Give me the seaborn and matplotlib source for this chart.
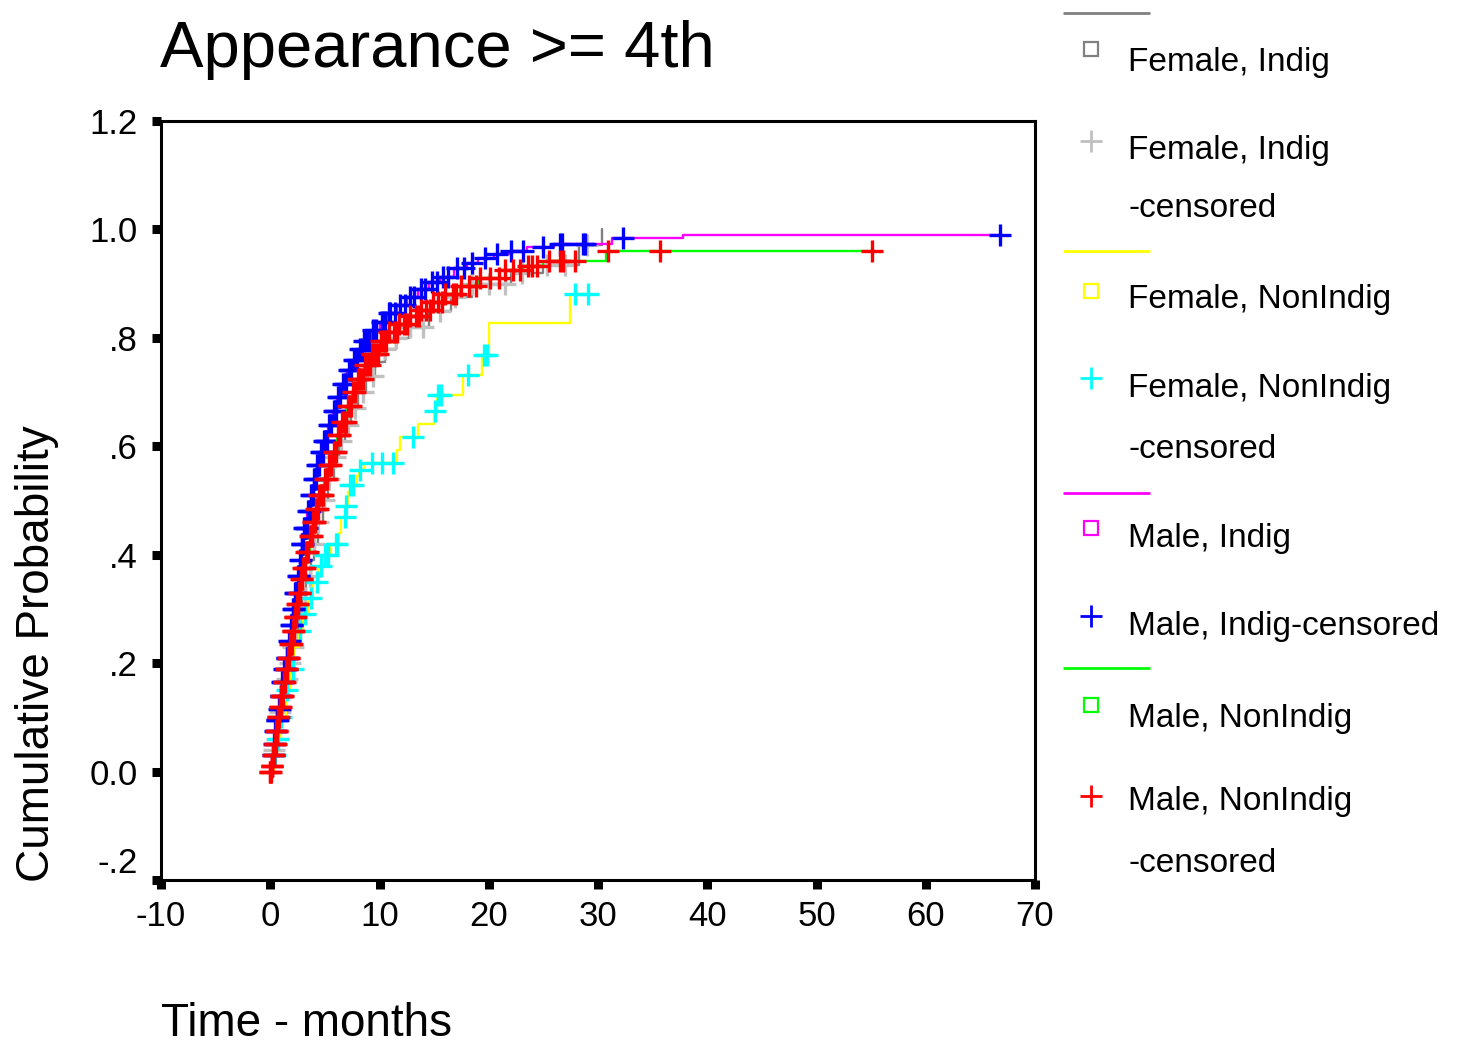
import numpy as np
import pandas as pd
import matplotlib
matplotlib.use("Agg")
import matplotlib.pyplot as plt
import seaborn as sns

# ---------------- data ----------------
groups = ["Female, Indig", "Female, NonIndig", "Male, Indig", "Male, NonIndig"]
line_colors = ["#808080", "#ffff00", "#ff00ff", "#00ff00"]
censor_colors = ["#c0c0c0", "#00ffff", "#0000ff", "#ff0000"]

# Female, Indig : event step knots (time, cumulative probability)
fi_t = [0.15, 0.3, 0.5, 0.7, 0.9, 1.1, 1.4, 1.7, 2.0, 2.3, 2.6, 2.9, 3.3, 3.7, 4.0, 4.4, 4.8,
        5.3, 5.8, 6.3, 6.8, 7.4, 8.0, 8.8, 9.6, 10.5, 11.5, 12.7, 14.5, 16.5, 18.5, 22.0,
        25.0, 28.3, 30.4]
fi_p = [0.02, 0.04, 0.06, 0.085, 0.11, 0.14, 0.17, 0.20, 0.23, 0.26, 0.29, 0.32, 0.36, 0.39,
        0.42, 0.46, 0.50, 0.54, 0.58, 0.61, 0.64, 0.67, 0.70, 0.73, 0.755, 0.78, 0.80, 0.82,
        0.85, 0.875, 0.90, 0.92, 0.935, 0.971, 1.0]
fi_cens = [0.3, 0.6, 0.9, 1.2, 1.5, 1.8, 2.1, 2.4, 2.8, 3.2, 3.6, 4.0, 4.4, 4.9, 5.4, 5.9, 6.5,
           7.1, 7.8, 8.5, 9.4, 10.5, 11.5, 12.8, 14.0, 15.5, 16.9, 18.5, 20.0, 21.5, 23.0,
           25.3, 27.0, 29.0]

# Female, NonIndig
fn_t = [0.3, 0.6, 1.0, 1.4, 1.8, 2.2, 2.6, 3.0, 3.5, 3.9, 4.4, 4.9, 5.6, 6.3, 6.5, 6.9, 7.1,
        7.3, 7.9, 8.1, 8.6, 11.6, 11.9, 13.5, 15.0, 15.3, 17.6, 19.4, 20.0, 27.4]
fn_p = [0.03, 0.06, 0.10, 0.15, 0.19, 0.23, 0.26, 0.29, 0.32, 0.35, 0.38, 0.40, 0.42, 0.44,
        0.47, 0.49, 0.515, 0.528, 0.545, 0.556, 0.569, 0.593, 0.617, 0.642, 0.665, 0.694,
        0.731, 0.768, 0.827, 0.88]
fn_cens = [0.3, 0.45, 0.7, 1.0, 1.5, 2.1, 2.7, 3.2, 3.7, 4.3, 4.6, 5.0, 5.3, 6.0, 6.1, 6.8,
           6.9, 7.3, 7.6, 8.2, 9.3, 10.2, 11.2, 13.1, 15.1, 15.4, 15.6, 18.1, 19.6, 19.8,
           27.9, 29.1]

# Male, Indig
mi_t = [0.1, 0.2, 0.35, 0.45, 0.6, 0.75, 0.9, 1.1, 1.3, 1.5, 1.7, 1.9, 2.1, 2.3, 2.5, 2.7,
        2.9, 3.1, 3.4, 3.7, 4.0, 4.3, 4.6, 4.9, 5.3, 5.7, 6.1, 6.5, 7.0, 7.5, 8.0, 8.5, 9.2,
        10.0, 10.8, 11.6, 12.5, 13.5, 14.5, 15.5, 16.8, 18.0, 19.0, 20.5, 22.0, 23.5, 26.0,
        31.3, 37.8]
mi_p = [0.01, 0.03, 0.05, 0.075, 0.095, 0.115, 0.14, 0.165, 0.19, 0.21, 0.24, 0.27, 0.30,
        0.33, 0.36, 0.39, 0.42, 0.45, 0.48, 0.51, 0.54, 0.565, 0.59, 0.61, 0.64, 0.665, 0.69,
        0.715, 0.74, 0.76, 0.78, 0.795, 0.815, 0.83, 0.845, 0.86, 0.875, 0.89, 0.903, 0.913,
        0.928, 0.938, 0.947, 0.955, 0.961, 0.967, 0.973, 0.985, 0.989]
mi_cens = [0.25, 0.3, 0.35, 0.4, 0.45, 0.5, 0.55, 0.6, 0.65, 0.7, 0.8, 0.85, 0.95, 1.0, 1.1,
           1.15, 1.2, 1.3, 1.35, 1.45, 1.5, 1.55, 1.65, 1.75, 1.8, 1.9, 1.95, 2.0, 2.1,
           2.15, 2.2, 2.3, 2.35, 2.4, 2.5, 2.6, 2.65, 2.75, 2.8, 2.9, 2.95, 3.0, 3.1, 3.2,
           3.3, 3.35, 3.5, 3.55, 3.6, 3.7, 3.8, 3.9, 4.0, 4.1, 4.2, 4.3, 4.4, 4.5, 4.6, 4.7,
           4.8, 4.9, 5.0, 5.1, 5.2, 5.4, 5.5, 5.6, 5.8, 5.9, 6.0, 6.2, 6.3, 6.4, 6.7, 6.8,
           6.9, 7.2, 7.3, 7.4, 7.7, 7.8, 7.9, 8.2, 8.4, 8.6, 8.8, 9.0, 9.4, 9.7, 10.2, 10.5,
           10.9, 11.0, 11.4, 11.9, 12.3, 12.8, 13.2, 13.8, 14.2, 14.8, 15.3, 15.8, 16.3,
           17.1, 17.7, 18.5, 19.7, 20.8, 22.0, 23.1, 25.0, 26.5, 26.7, 28.6, 28.8, 32.3,
           66.8]

# Male, NonIndig
mn_t = [0.1, 0.25, 0.4, 0.55, 0.7, 0.85, 1.0, 1.2, 1.4, 1.6, 1.8, 2.0, 2.2, 2.4, 2.6, 2.8,
        3.0, 3.3, 3.6, 3.9, 4.2, 4.5, 4.9, 5.3, 5.7, 6.1, 6.5, 7.0, 7.5, 8.0, 8.6, 9.2, 10.0,
        10.8, 11.7, 12.7, 13.7, 14.8, 16.0, 17.4, 19.0, 21.0, 23.0, 25.0, 30.7]
mn_p = [0.01, 0.03, 0.05, 0.075, 0.10, 0.12, 0.14, 0.165, 0.19, 0.21, 0.235, 0.26, 0.285,
        0.31, 0.33, 0.355, 0.375, 0.405, 0.435, 0.46, 0.485, 0.51, 0.54, 0.565, 0.59, 0.62,
        0.645, 0.675, 0.70, 0.725, 0.75, 0.77, 0.795, 0.81, 0.825, 0.84, 0.852, 0.866, 0.88,
        0.895, 0.91, 0.925, 0.933, 0.941, 0.96]
mn_cens = [0.0, 0.0, 0.05, 0.12, 0.15, 0.2, 0.25, 0.3, 0.35, 0.4, 0.45, 0.5, 0.55, 0.6, 0.65,
           0.7, 0.75, 0.8, 0.85, 0.9, 0.95, 1.0, 1.05, 1.1, 1.15, 1.25, 1.3, 1.35, 1.45,
           1.5, 1.55, 1.65, 1.7, 1.75, 1.85, 1.9, 1.95, 2.05, 2.1, 2.15, 2.25, 2.3, 2.35,
           2.45, 2.5, 2.55, 2.65, 2.7, 2.75, 2.85, 2.9, 2.95, 3.0, 3.1, 3.2, 3.3, 3.4, 3.5,
           3.6, 3.7, 3.8, 3.9, 4.0, 4.1, 4.2, 4.3, 4.4, 4.5, 4.6, 4.7, 4.8, 5.0, 5.1, 5.2,
           5.4, 5.5, 5.6, 5.8, 5.9, 6.0, 6.2, 6.3, 6.4, 6.6, 6.8, 6.9, 7.1, 7.3, 7.4, 7.6,
           7.8, 8.0, 8.1, 8.3, 8.5, 8.7, 8.9, 9.1, 9.3, 9.6, 9.9, 10.1, 10.4, 10.6, 10.9,
           11.3, 11.6, 11.8, 12.2, 12.5, 12.8, 13.3, 13.6, 13.8, 14.3, 14.6, 14.9, 15.4,
           15.7, 16.0, 16.7, 17.0, 17.5, 18.2, 18.8, 19.2, 20.1, 20.9, 21.5, 22.2, 22.9,
           23.6, 24.0, 24.4, 25.5, 26.5, 26.8, 27.9, 30.9, 35.7, 55.1]

event_times = [fi_t, fn_t, mi_t, mn_t]
event_probs = [fi_p, fn_p, mi_p, mn_p]
censor_times = [fi_cens, fn_cens, mi_cens, mn_cens]

x_ticks = [-10, 0, 10, 20, 30, 40, 50, 60, 70]
y_ticks = [-0.2, 0.0, 0.2, 0.4, 0.6, 0.8, 1.0, 1.2]
y_tick_labels = ["-.2", "0.0", ".2", ".4", ".6", ".8", "1.0", "1.2"]

title = "Appearance >= 4th"
x_label = "Time - months"
y_label = "Cumulative Probability"

# ---------------- figure ----------------
W, H = 1457, 1048
sns.set_theme(style="white")
plt.rcParams["font.family"] = ["Liberation Sans", "DejaVu Sans"]
plt.rcParams["text.color"] = "black"
plt.rcParams["axes.labelcolor"] = "black"
plt.rcParams["xtick.color"] = "black"
plt.rcParams["ytick.color"] = "black"

fig = plt.figure(figsize=(W / 100, H / 100), dpi=100)
ax = fig.add_axes([161 / W, 1 - 880 / H, (1035 - 161) / W, (880 - 121) / H])
ax.set_facecolor("white")


def step_value(kt, kp, t):
    kt = np.asarray(kt)
    kp = np.asarray(kp)
    idx = np.searchsorted(kt, np.asarray(t), side="right") - 1
    return np.where(idx >= 0, kp[np.clip(idx, 0, None)], 0.0)


for i, g in enumerate(groups):
    kt = np.asarray(event_times[i], dtype=float)
    kp = np.asarray(event_probs[i], dtype=float)
    ct = np.asarray(censor_times[i], dtype=float)
    end_t = max(kt[-1], ct.max())
    lt = np.r_[0.0, kt, end_t]
    lp = np.r_[0.0, kp, kp[-1]]
    line_df = pd.DataFrame({"time": lt, "prob": lp})
    sns.lineplot(data=line_df, x="time", y="prob", ax=ax, color=line_colors[i],
                 drawstyle="steps-post", estimator=None, sort=False, lw=1.7,
                 zorder=2 + 2 * i)
    cens_df = pd.DataFrame({"time": ct, "prob": step_value(kt, kp, ct)})
    sns.scatterplot(data=cens_df, x="time", y="prob", ax=ax, marker="+", s=256,
                    color=censor_colors[i], linewidth=2.4, zorder=3 + 2 * i,
                    legend=False)

ax.set_xlim(-10, 70)
ax.set_ylim(-0.2, 1.2)
ax.set_xticks(x_ticks)
ax.set_xticklabels([str(v) for v in x_ticks])
ax.set_yticks(y_ticks)
ax.set_yticklabels(y_tick_labels)
for sp in ax.spines.values():
    sp.set_visible(True)
    sp.set_color("black")
    sp.set_linewidth(2.2)
ax.tick_params(axis="both", direction="out", length=6.5, width=6.5, color="black",
               labelsize=25, labelcolor="black")
ax.tick_params(axis="x", pad=8, bottom=True)
ax.tick_params(axis="y", pad=10, left=True)
ax.grid(False)
ax.get_yticklabels()[0].set_va("bottom")

ax.set_xlabel(x_label, fontsize=33, color="black")
ax.xaxis.set_label_coords(0.0, (880 - 1036) / 759)
ax.xaxis.label.set_ha("left")
ax.xaxis.label.set_va("baseline")

ax.set_ylabel(y_label, fontsize=33, color="black")
ax.yaxis.set_label_coords((49 - 161) / 874, -0.003)
ax.yaxis.label.set_ha("left")
ax.yaxis.label.set_va("baseline")
ax.yaxis.label.set_rotation_mode("anchor")

fig.text(160 / W, 1 - 67 / H, title, fontsize=47, ha="left", va="baseline", color="black")

# ---------------- legend (drawn in figure pixel space) ----------------
lax = fig.add_axes([0, 0, 1, 1], facecolor="none")
lax.set_xlim(0, W)
lax.set_ylim(H, 0)
lax.axis("off")

leg_line_y = [13, 251, 493, 668]
leg_square_y = [49, 291, 528, 704.5]
leg_plus_y = [141, 378, 616, 796]
leg_square_base = [71, 308, 547, 727]
leg_plus_base = [159, 397, 635, 810]
leg_plus_labels = ["Female, Indig", "Female, NonIndig", "Male, Indig-censored", "Male, NonIndig"]
leg_second_base = [217, 458, None, 872]

for i, g in enumerate(groups):
    lax.plot([1063, 1150], [leg_line_y[i]] * 2, color=line_colors[i], lw=2.0,
             solid_capstyle="butt")
    lax.plot([1091], [leg_square_y[i]], marker="s", ms=9.5, mfc="none",
             mec=line_colors[i], mew=1.6, ls="none")
    lax.plot([1091], [leg_plus_y[i]], marker="+", ms=16, mec=censor_colors[i], mew=2.0,
             ls="none")
    lax.text(1128, leg_square_base[i], g, fontsize=24, ha="left", va="baseline",
             color="black")
    lax.text(1128, leg_plus_base[i], leg_plus_labels[i], fontsize=24, ha="left",
             va="baseline", color="black")
    if leg_second_base[i] is not None:
        lax.text(1128, leg_second_base[i], "-censored", fontsize=24, ha="left",
                 va="baseline", color="black")

fig.savefig("out.png", dpi=100, facecolor="white")
